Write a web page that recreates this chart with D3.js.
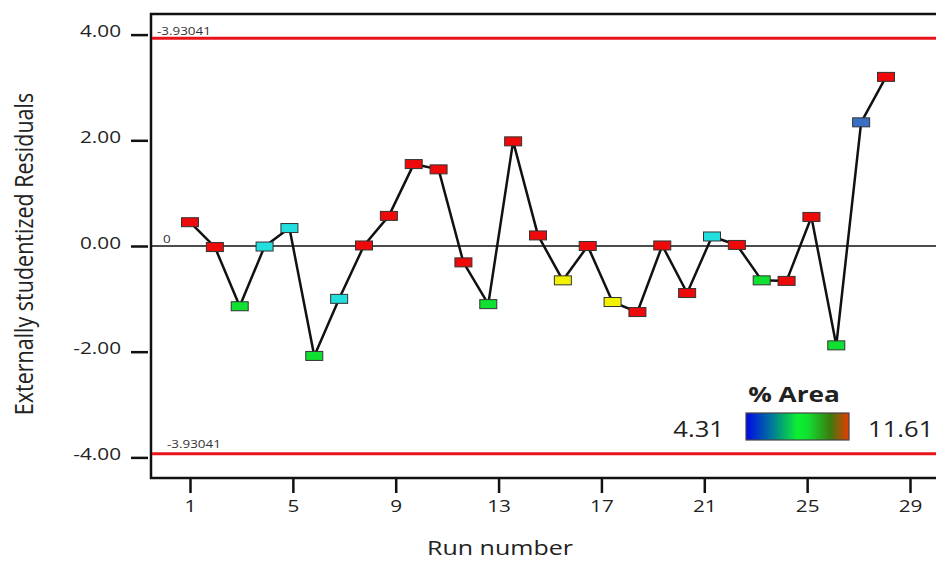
<!DOCTYPE html>
<html>
<head>
<meta charset="utf-8">
<script src="https://cdn.jsdelivr.net/npm/d3@7/dist/d3.min.js"></script>
<style>
  html, body { margin: 0; padding: 0; background: #fff; }
  svg { display: block; font-family: "Open Sans", sans-serif; }
</style>
</head>
<body>
<div id="chart"></div>
<script>
"use strict";

// run order and externally studentized residuals
var runs = [1, 2, 3, 4, 5, 6, 7, 8, 9, 10, 11, 12, 13, 14, 15, 16, 17, 18, 19, 20,
  21, 22, 23, 24, 25, 26, 27, 28, 29];
var residuals = [0.45, -0.02, -1.14, -0.01, 0.34, -2.08, -1.00, 0.01, 0.57, 1.55,
  1.45, -0.31, -1.10, 1.98, 0.20, -0.65, 0.00, -1.06, -1.25, 0.01,
  -0.89, 0.18, 0.02, -0.65, -0.66, 0.55, -1.88, 2.34, 3.20];
// % Area per run (colour of the marker)
var areas = [11.2, 10.9, 8.0, 6.4, 6.6, 7.9, 6.5, 10.8, 11.0, 11.3,
  11.4, 10.7, 7.8, 11.5, 10.6, 9.6, 10.9, 9.4, 11.1, 10.8,
  10.5, 6.3, 10.9, 7.7, 11.0, 11.3, 8.1, 4.9, 11.6];
var areaRange = [4.31, 11.61];
var limit = 3.93041;
var yTicks = [-4, -2, 0, 2, 4];
var xTicks = [1, 5, 9, 13, 17, 21, 25, 29];

var W = 936, H = 561;
var sx = 1.22; // the picture is a bit wider than tall, text is stretched

var svg = d3.select("#chart").append("svg")
  .attr("width", W).attr("height", H);

var frame = {left: 151, top: 14, bottom: 478, right: 952};

var y = d3.scaleLinear().domain([-4.39, 4.39]).range([frame.bottom, frame.top]);
var x = d3.scaleLinear().domain([1, 29]).range([190, 886]);
var xAxisScale = d3.scaleLinear().domain([1, 29]).range([190, 910]);

var color = d3.scaleQuantize().domain(areaRange)
  .range(["#3a6fc8", "#22dede", "#10e030", "#f2f200", "#ee0a0a"]);

var fmt2 = function(v) { return d3.format(".2f")(v).replace("\u2212", "-"); };

function stretchText(g, str, px, py, size, anchor, weight) {
  return g.append("text")
    .attr("transform", "translate(" + px + "," + py + ") scale(" + sx + ",1)")
    .attr("text-anchor", anchor || "start")
    .attr("font-size", size)
    .attr("font-weight", weight || "normal")
    .attr("fill", "#222")
    .text(str);
}

// frame
svg.append("rect")
  .attr("x", frame.left).attr("y", frame.top)
  .attr("width", frame.right - frame.left).attr("height", frame.bottom - frame.top)
  .attr("fill", "#fff").attr("stroke", "#111").attr("stroke-width", 2.5);

// limit lines
[limit, -limit].forEach(function(v) {
  svg.append("line")
    .attr("x1", frame.left + 1).attr("x2", W)
    .attr("y1", y(v)).attr("y2", y(v))
    .attr("stroke", "#e8141b").attr("stroke-width", 3);
});
stretchText(svg, "-" + limit, 157, y(limit) - 3, 11, "start").attr("fill", "#333");
stretchText(svg, "-" + limit, 167, y(-limit) - 6, 11, "start").attr("fill", "#333");

// zero line
svg.append("line")
  .attr("x1", frame.left + 1).attr("x2", W)
  .attr("y1", y(0)).attr("y2", y(0))
  .attr("stroke", "#111").attr("stroke-width", 1.5);
stretchText(svg, "0", 163, y(0) - 3, 11, "start").attr("fill", "#333");

// y axis
var yAxis = svg.append("g")
  .attr("transform", "translate(148,0)")
  .call(d3.axisLeft(y).tickValues(yTicks).tickSize(17).tickFormat(fmt2));
yAxis.select(".domain").remove();
yAxis.selectAll(".tick line").attr("stroke", "#111").attr("stroke-width", 2.5);
yAxis.selectAll(".tick text")
  .attr("x", null).attr("dy", null)
  .attr("transform", "translate(-27,2) scale(" + sx + ",1)")
  .attr("font-family", "Open Sans").attr("font-size", 17).attr("fill", "#222");

// x axis
var xAxis = svg.append("g")
  .attr("transform", "translate(0," + frame.bottom + ")")
  .call(d3.axisBottom(xAxisScale).tickValues(xTicks).tickSize(15));
xAxis.select(".domain").remove();
xAxis.selectAll(".tick line").attr("stroke", "#111").attr("stroke-width", 2.5);
xAxis.selectAll(".tick text")
  .attr("y", null).attr("dy", null)
  .attr("transform", "translate(0,34) scale(" + sx + ",1)")
  .attr("font-family", "Open Sans").attr("font-size", 17).attr("fill", "#222");

// axis titles
stretchText(svg, "Run number", 500, 555, 20.5, "middle");
svg.append("text")
  .attr("transform", "translate(33,254) scale(" + sx + ",1) rotate(-90)")
  .attr("text-anchor", "middle")
  .attr("font-size", 21.5)
  .attr("fill", "#222")
  .text("Externally studentized Residuals");

// residual line and markers
var pts = runs.map(function(r, i) { return {run: r, res: residuals[i], area: areas[i]}; });

svg.append("path")
  .datum(pts)
  .attr("fill", "none")
  .attr("stroke", "#111")
  .attr("stroke-width", 2.5)
  .attr("stroke-linejoin", "round")
  .attr("d", d3.line().x(function(d) { return x(d.run); }).y(function(d) { return y(d.res); }));

var mw = 17, mh = 9;
svg.append("g").selectAll("rect")
  .data(pts)
  .enter().append("rect")
  .attr("x", function(d) { return x(d.run) - mw / 2; })
  .attr("y", function(d) { return y(d.res) - mh / 2; })
  .attr("width", mw).attr("height", mh)
  .attr("fill", function(d) { return color(d.area); })
  .attr("stroke", "#333").attr("stroke-width", 1);

// legend
var defs = svg.append("defs");
var grad = defs.append("linearGradient").attr("id", "areaGrad");
[[0, "#0008e8"], [0.25, "#00789a"], [0.5, "#0cf030"], [0.6, "#10e030"], [0.82, "#3c7a10"], [1, "#e83c00"]]
  .forEach(function(s) {
    grad.append("stop").attr("offset", s[0]).attr("stop-color", s[1]);
  });
svg.append("rect")
  .attr("x", 746).attr("y", 413).attr("width", 103).attr("height", 27)
  .attr("fill", "url(#areaGrad)").attr("stroke", "#444").attr("stroke-width", 1.2);
stretchText(svg, "% Area", 794, 402, 21.5, "middle", "bold");
stretchText(svg, fmt2(areaRange[0]), 724, 437, 21, "end");
stretchText(svg, fmt2(areaRange[1]), 868, 437, 21, "start");
</script>
</body>
</html>
